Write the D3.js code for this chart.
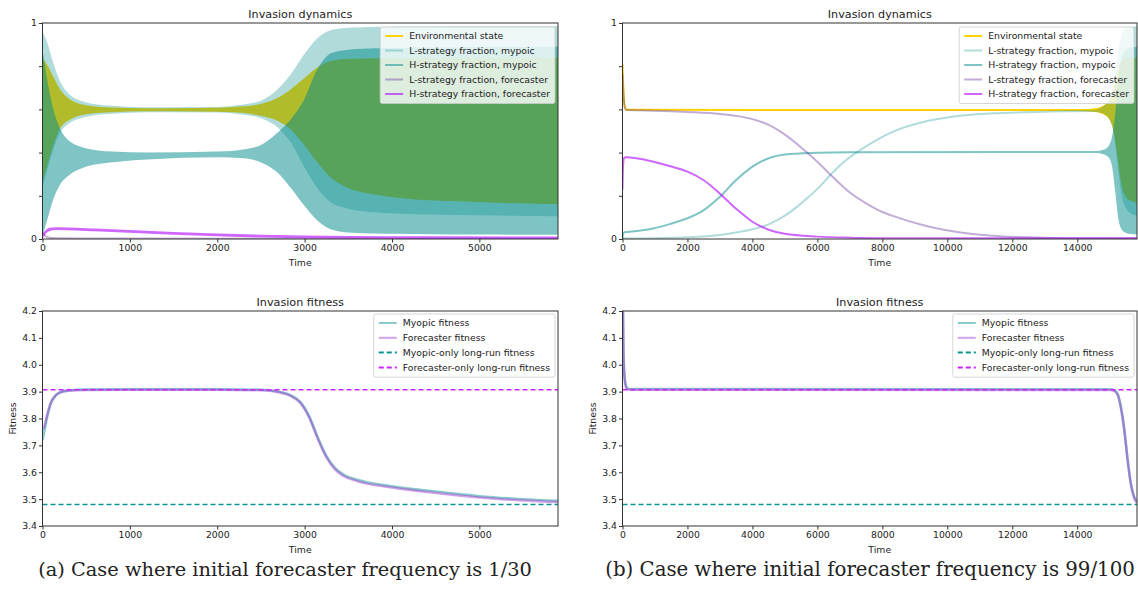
<!DOCTYPE html>
<html>
<head>
<meta charset="utf-8">
<script src="https://cdn.jsdelivr.net/npm/d3@7"></script>
<style>
  body { margin: 0; background: #fff; }
  svg text { font-family: "DejaVu Sans", sans-serif; fill: #222; }
</style>
</head>
<body>
<svg id="fig" width="1138" height="596"></svg>
<script>
// ---------------- data ----------------
// Each row: [time, low, high]; when high is missing the trace is a single value.
// Case (a): initial forecaster frequency 1/30
const envA = [[0,0.28,0.83],[50,0.35,0.80],[100,0.42,0.76],[200,0.52,0.685],[300,0.555,0.645],[500,0.582,0.615],[800,0.592,0.604],[1200,0.596,0.601],[2000,0.594,0.603],[2300,0.588,0.61],[2500,0.575,0.62],[2700,0.55,0.65],[2850,0.51,0.69],[3000,0.44,0.74],[3150,0.36,0.79],[3300,0.29,0.82],[3500,0.24,0.83],[3800,0.21,0.832],[4200,0.19,0.834],[4700,0.18,0.835],[5200,0.172,0.835],[5900,0.165,0.835]];
const lMyoA = [[0,0.25,0.95],[50,0.33,0.90],[100,0.40,0.83],[200,0.50,0.72],[300,0.54,0.665],[500,0.57,0.628],[800,0.585,0.612],[1200,0.592,0.605],[2000,0.59,0.607],[2300,0.58,0.618],[2500,0.565,0.635],[2700,0.52,0.69],[2850,0.45,0.76],[3000,0.34,0.85],[3150,0.24,0.925],[3300,0.175,0.962],[3500,0.145,0.973],[3800,0.128,0.977],[4200,0.12,0.979],[4700,0.116,0.98],[5200,0.113,0.98],[5900,0.11,0.98]];
const hMyoA = [[0,0.03,0.85],[50,0.10,0.72],[100,0.17,0.62],[200,0.26,0.50],[300,0.30,0.45],[500,0.34,0.415],[800,0.36,0.40],[1200,0.373,0.396],[2000,0.383,0.40],[2300,0.378,0.41],[2500,0.36,0.43],[2700,0.31,0.49],[2850,0.24,0.55],[3000,0.16,0.64],[3150,0.09,0.78],[3300,0.05,0.855],[3500,0.035,0.872],[3800,0.03,0.878],[4200,0.028,0.881],[4700,0.026,0.883],[5200,0.025,0.885],[5900,0.024,0.886]];
const lFcA = [[0,0.03],[30,0.015],[80,0.006],[200,0.003],[1000,0.002],[5900,0.001]];
const hFcA = [[0,0.01,0.014],[30,0.028,0.032],[80,0.042,0.047],[150,0.046,0.05],[300,0.045,0.049],[600,0.04,0.044],[1000,0.033,0.037],[1500,0.024,0.028],[2000,0.017,0.021],[2500,0.011,0.015],[3000,0.008,0.011],[3500,0.006,0.009],[4500,0.005,0.008],[5900,0.004,0.007]];
const myoFitA = [[0,3.72],[20,3.75],[50,3.80],[100,3.86],[150,3.885],[200,3.897],[300,3.905],[500,3.908],[1000,3.909],[2000,3.909],[2500,3.907],[2700,3.90],[2850,3.885],[2950,3.862],[3050,3.81],[3150,3.73],[3250,3.66],[3350,3.615],[3450,3.59],[3600,3.572],[4000,3.548],[4500,3.528],[5000,3.511],[5500,3.5],[5900,3.494]];
const fcFitA = [[0,3.76],[20,3.77],[50,3.81],[100,3.862],[150,3.886],[200,3.896],[300,3.903],[500,3.906],[1000,3.907],[2000,3.907],[2500,3.905],[2700,3.898],[2850,3.882],[2950,3.858],[3050,3.805],[3150,3.725],[3250,3.655],[3350,3.61],[3450,3.585],[3600,3.567],[4000,3.543],[4500,3.523],[5000,3.506],[5500,3.495],[5900,3.489]];

// Case (b): initial forecaster frequency 99/100
const envB = [[0,0.81],[25,0.70],[60,0.62],[120,0.598],[14000,0.597],[14500,0.594,0.600],[14800,0.583,0.612],[15000,0.56,0.635],[15150,0.50,0.68],[15250,0.40,0.75],[15350,0.29,0.81],[15450,0.22,0.828],[15600,0.185,0.833],[15840,0.172,0.835]];
const lMyoB = [[0,0.002],[1000,0.004],[2000,0.008],[3000,0.019],[3500,0.03],[4000,0.045],[4500,0.068],[5000,0.108],[5500,0.165],[6000,0.232],[6400,0.296],[6800,0.355],[7250,0.405],[7900,0.465],[8300,0.495],[9350,0.545],[10400,0.571],[11400,0.582],[12400,0.587],[13500,0.591],[14500,0.594],[14800,0.585,0.61],[15000,0.56,0.64],[15150,0.49,0.72],[15250,0.38,0.82],[15350,0.25,0.92],[15450,0.17,0.96],[15600,0.13,0.975],[15840,0.112,0.98]];
const hMyoB = [[0,0.0],[20,0.024],[60,0.031],[430,0.037],[950,0.049],[1450,0.069],[2000,0.096],[2500,0.134],[3000,0.196],[3500,0.273],[4000,0.335],[4500,0.374],[5000,0.391],[6000,0.399],[7000,0.402],[14600,0.403],[14850,0.395,0.41],[15000,0.38,0.43],[15100,0.34,0.47],[15200,0.22,0.58],[15300,0.09,0.74],[15400,0.045,0.84],[15550,0.03,0.875],[15840,0.026,0.885]];
const lFcB = [[0,0.76],[40,0.65],[100,0.598],[500,0.596],[1000,0.594],[2000,0.588],[3000,0.579],[3500,0.57],[4000,0.555],[4500,0.528],[5000,0.483],[5500,0.424],[6000,0.358],[6400,0.298],[7000,0.215],[7500,0.165],[8000,0.125],[8300,0.108],[9350,0.06],[10400,0.03],[11400,0.015],[12400,0.008],[13500,0.004],[15840,0.002]];
const hFcB = [[0,0.23],[15,0.33],[50,0.375],[100,0.378],[430,0.374],[950,0.358],[1450,0.338],[2000,0.312],[2500,0.272],[3000,0.21],[3500,0.14],[4000,0.08],[4500,0.043],[5000,0.024],[6000,0.011],[7000,0.006],[8000,0.004],[10000,0.003],[15840,0.003]];
const myoFitB = [[0,4.35],[30,4.05],[60,3.96],[100,3.925],[150,3.912],[300,3.91],[15000,3.909],[15150,3.905],[15250,3.89],[15350,3.84],[15450,3.76],[15550,3.65],[15650,3.56],[15750,3.51],[15840,3.49]];
const fcFitB = [[0,4.35],[30,4.04],[60,3.955],[100,3.92],[150,3.909],[300,3.907],[15000,3.906],[15150,3.902],[15250,3.886],[15350,3.835],[15450,3.755],[15550,3.645],[15650,3.555],[15750,3.505],[15840,3.486]];

// Long-run reference fitness levels
const myopicOnlyFitness = 3.48;
const forecasterOnlyFitness = 3.907;

// Axes extents and ticks
const timeMaxA = 5900, timeMaxB = 15840;
const xTicksA = [0, 1000, 2000, 3000, 4000, 5000];
const xTicksB = [0, 2000, 4000, 6000, 8000, 10000, 12000, 14000];
const yTicksDyn = [0, 0.2, 0.4, 0.6, 0.8, 1];
const yTickLabelsDyn = ["0", "", "", "", "", "1"];
const yTicksFit = [3.4, 3.5, 3.6, 3.7, 3.8, 3.9, 4.0, 4.1, 4.2];

const dynNames = ["Environmental state", "L-strategy fraction, mypoic", "H-strategy fraction, mypoic", "L-strategy fraction, forecaster", "H-strategy fraction, forecaster"];
const fitNames = ["Myopic fitness", "Forecaster fitness", "Myopic-only long-run fitness", "Forecaster-only long-run fitness"];
const captions = ["(a) Case where initial forecaster frequency is 1/30", "(b) Case where initial forecaster frequency is 99/100"];

// ---------------- styles ----------------
const FS = 9.3;        // tick / legend / axis-label size
const TITLE_FS = 11.2;
const dynStyle = [
  { color: "#ffd200", opacity: 1 },
  { color: "#008b8b", opacity: 0.3 },
  { color: "#008b8b", opacity: 0.5 },
  { color: "#663399", opacity: 0.4 },
  { color: "#b000ff", opacity: 0.6 }
];
const fitStyle = [
  { color: "#008b8b", opacity: 0.45, dash: null },
  { color: "#9b30d0", opacity: 0.45, dash: null },
  { color: "#0a9494", opacity: 1, dash: "5,3" },
  { color: "#cc22ff", opacity: 1, dash: "5,3" }
];

const svg = d3.select("#fig");
const cols = [{ left: 42.5, right: 558 }, { left: 622.5, right: 1137 }];
const rowDyn = { top: 23, bottom: 239 };
const rowFit = { top: 311, bottom: 526 };

function frame(g, r, c) {
  g.append("rect").attr("x", c.left).attr("y", r.top)
    .attr("width", c.right - c.left).attr("height", r.bottom - r.top)
    .attr("fill", "none").attr("stroke", "#333").attr("stroke-width", 1);
}

function axes(g, x, y, r, xTicks, yTicks, yLabels) {
  const ax = g.append("g").attr("transform", `translate(0,${r.bottom})`)
    .call(d3.axisBottom(x).tickValues(xTicks).tickSize(3.5).tickPadding(2).tickSizeOuter(0).tickFormat(d3.format("d")));
  const ay = g.append("g").attr("transform", `translate(${x.range()[0]},0)`)
    .call(d3.axisLeft(y).tickValues(yTicks).tickSize(3.5).tickPadding(2).tickSizeOuter(0)
      .tickFormat((d, i) => yLabels ? yLabels[i] : d3.format(".1f")(d)));
  [ax, ay].forEach(a => {
    a.select(".domain").remove();
    a.selectAll("line").attr("stroke", "#333");
    a.selectAll("text").attr("font-size", FS).attr("fill", "#222")
      .style("font-family", '"DejaVu Sans", sans-serif');
  });
}

function legend(g, names, styles, right, top, rowH) {
  const lg = g.append("g");
  const box = lg.append("rect");
  let maxW = 0;
  names.forEach((n, i) => {
    const yy = 9 + i * rowH;
    const s = styles[i];
    lg.append("line").attr("x1", 5).attr("x2", 23).attr("y1", yy).attr("y2", yy)
      .attr("stroke", s.color).attr("stroke-opacity", s.opacity)
      .attr("stroke-width", 2).attr("stroke-dasharray", s.dash || null);
    const t = lg.append("text").attr("x", 29).attr("y", yy + 3.3).attr("font-size", FS).text(n);
    maxW = Math.max(maxW, t.node().getComputedTextLength());
  });
  const w = 29 + maxW + 5, h = names.length * rowH + 4;
  box.attr("x", 0).attr("y", 0).attr("width", w).attr("height", h).attr("rx", 2)
    .attr("fill", "#fff").attr("fill-opacity", 0.8).attr("stroke", "#ccc").attr("stroke-width", 0.8);
  lg.attr("transform", `translate(${right - w},${top})`);
}

function panelText(g, r, c, title) {
  g.append("text").attr("x", (c.left + c.right) / 2).attr("y", r.top - 5).attr("text-anchor", "middle")
    .attr("font-size", TITLE_FS).text(title);
  g.append("text").attr("x", (c.left + c.right) / 2).attr("y", r.bottom + 27).attr("text-anchor", "middle")
    .attr("font-size", FS).text("Time");
}

function dynPanel(idx, series, tMax, xTicks) {
  const c = cols[idx], r = rowDyn;
  const g = svg.append("g");
  const x = d3.scaleLinear().domain([0, tMax]).range([c.left, c.right]);
  const y = d3.scaleLinear().domain([0, 1]).range([r.bottom, r.top]);
  const clipId = "clipDyn" + idx;
  g.append("clipPath").attr("id", clipId).append("rect")
    .attr("x", c.left).attr("y", r.top).attr("width", c.right - c.left).attr("height", r.bottom - r.top);
  const plot = g.append("g").attr("clip-path", `url(#${clipId})`);
  const area = d3.area()
    .x(d => x(d[0])).y0(d => y(d[1])).y1(d => y(d.length > 2 ? d[2] : d[1]))
    .curve(d3.curveMonotoneX);
  series.forEach((s, i) => {
    const st = dynStyle[i];
    plot.append("g").attr("opacity", st.opacity)
      .append("path").attr("d", area(s))
      .attr("fill", st.color).attr("stroke", st.color).attr("stroke-width", 2).attr("stroke-linejoin", "round");
  });
  frame(g, r, c);
  axes(g, x, y, r, xTicks, yTicksDyn, yTickLabelsDyn);
  panelText(g, r, c, "Invasion dynamics");
  legend(g, dynNames, dynStyle, c.right - 3, r.top + 4, 14.5);
}

function fitPanel(idx, myo, fc, tMax, xTicks) {
  const c = cols[idx], r = rowFit;
  const g = svg.append("g");
  const x = d3.scaleLinear().domain([0, tMax]).range([c.left, c.right]);
  const y = d3.scaleLinear().domain([3.4, 4.2]).range([r.bottom, r.top]);
  const clipId = "clipFit" + idx;
  g.append("clipPath").attr("id", clipId).append("rect")
    .attr("x", c.left).attr("y", r.top).attr("width", c.right - c.left).attr("height", r.bottom - r.top);
  const plot = g.append("g").attr("clip-path", `url(#${clipId})`);
  const line = d3.line().x(d => x(d[0])).y(d => y(d[1])).curve(d3.curveMonotoneX);
  [myo, fc].forEach((s, i) => {
    plot.append("path").attr("d", line(s)).attr("fill", "none")
      .attr("stroke", fitStyle[i].color).attr("stroke-opacity", fitStyle[i].opacity)
      .attr("stroke-width", 2.5).attr("stroke-linejoin", "round");
  });
  [myopicOnlyFitness, forecasterOnlyFitness].forEach((v, i) => {
    const st = fitStyle[i + 2];
    plot.append("path").attr("d", line([[0, v], [tMax, v]])).attr("fill", "none")
      .attr("stroke", st.color).attr("stroke-width", 1.5).attr("stroke-dasharray", st.dash);
  });
  frame(g, r, c);
  axes(g, x, y, r, xTicks, yTicksFit, null);
  panelText(g, r, c, "Invasion fitness");
  g.append("text").attr("transform", `translate(${c.left - 27},${(r.top + r.bottom) / 2}) rotate(-90)`)
    .attr("text-anchor", "middle").attr("font-size", FS).text("Fitness");
  legend(g, fitNames, fitStyle, c.right - 3, r.top + 3, 14.8);
}

dynPanel(0, [envA, lMyoA, hMyoA, lFcA, hFcA], timeMaxA, xTicksA);
dynPanel(1, [envB, lMyoB, hMyoB, lFcB, hFcB], timeMaxB, xTicksB);
fitPanel(0, myoFitA, fcFitA, timeMaxA, xTicksA);
fitPanel(1, myoFitB, fcFitB, timeMaxB, xTicksB);

// Sub-figure captions, each sized to span its sub-figure's label width
const captionCenters = [285, 870];
const captionWidths = [494, 530];
captionCenters.forEach((cx, i) => {
  const t = svg.append("text").attr("x", cx).attr("y", 576).attr("text-anchor", "middle")
    .attr("font-size", 18).style("font-family", '"DejaVu Serif", serif').attr("fill", "#111")
    .text(captions[i]);
  const w = t.node().getComputedTextLength();
  t.attr("font-size", 18 * captionWidths[i] / w);
});
</script>
</body>
</html>
